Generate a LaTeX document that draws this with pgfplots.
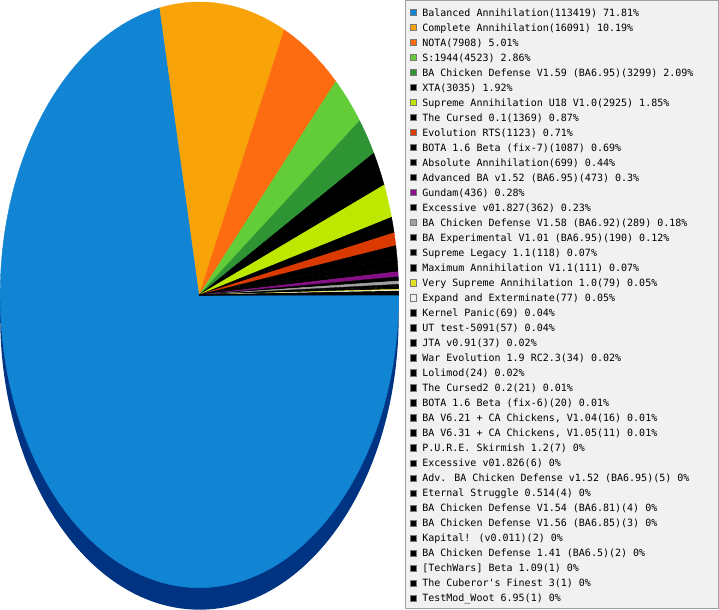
\documentclass[border=0pt]{standalone}
\usepackage{pgfplots}
\pgfplotsset{compat=1.18}
\usepackage{pgfplotstable}
\usepackage{fontspec}
\newfontfamily\legendfont{DejaVu Sans Mono}

\definecolor{cBA}{RGB}{17,133,212}
\definecolor{cCA}{RGB}{248,164,8}
\definecolor{cNOTA}{RGB}{253,108,17}
\definecolor{cS44}{RGB}{99,205,57}
\definecolor{cBACD}{RGB}{46,148,52}
\definecolor{cBlk}{RGB}{0,0,0}
\definecolor{cSA}{RGB}{190,232,0}
\definecolor{cEvo}{RGB}{218,58,0}
\definecolor{cGun}{RGB}{135,15,135}
\definecolor{cGrey}{RGB}{160,160,160}
\definecolor{cYel}{RGB}{224,224,40}
\definecolor{cLight}{RGB}{240,240,240}
\definecolor{cDepth}{RGB}{0,52,130}
\definecolor{lgbg}{RGB}{241,241,241}
\definecolor{lgborder}{RGB}{160,160,160}
\definecolor{lgsq}{RGB}{120,120,120}

% games played per mod
\pgfplotstableread{
count col
113419 cBA
16091 cCA
7908 cNOTA
4523 cS44
3299 cBACD
3035 cBlk
2925 cSA
1369 cBlk
1123 cEvo
1087 cBlk
699 cBlk
473 cBlk
436 cGun
362 cBlk
289 cGrey
190 cBlk
118 cBlk
111 cBlk
79 cYel
77 cLight
69 cBlk
57 cBlk
37 cBlk
34 cBlk
24 cBlk
21 cBlk
20 cBlk
16 cBlk
11 cBlk
7 cBlk
6 cBlk
5 cBlk
4 cBlk
4 cBlk
3 cBlk
2 cBlk
2 cBlk
1 cBlk
1 cBlk
1 cBlk
}\piedata

\newcommand\modentry[2]{\addlegendimage{fill=#1}\addlegendentry{#2}}

\begin{document}
\begin{tikzpicture}
\begin{axis}[
  scale only axis, width=719bp, height=610bp,
  xmin=0, xmax=719, ymin=0, ymax=610,
  axis lines=none, ticks=none,
  legend image code/.code={\draw[draw=lgsq, line width=0.8bp, #1] (0.4bp,-2.1bp) rectangle (6.6bp,4.1bp);},
  legend cell align=left,
  legend style={at={(axis cs:410.6,604)}, anchor=north west, draw=none, fill=none,
    inner sep=0pt, outer sep=0pt, row sep=0pt,
    font=\legendfont\fontsize{10bp}{12bp}\selectfont,
    nodes={inner sep=0pt, text height=10bp, text depth=5bp},
    /tikz/every odd column/.append style={column sep=5bp}},
]
\pgfplotsextra{
  \pgfplotstablegetrowsof{\piedata}
  \edef\lastrow{\the\numexpr\pgfplotsretval-1\relax}
  \gdef\total{0}
  \foreach \r in {0,...,\lastrow}{
    \pgfplotstablegetelem{\r}{count}\of{\piedata}
    \xdef\total{\fpeval{\total+\pgfplotsretval}}
  }
  % legend panel
  \draw[lgborder, fill=lgbg, line width=1bp] (axis cs:405.5,609.5) rectangle (axis cs:718.5,2.5);
  % side of the disc
  \fill[cDepth] (axis cs:399,315.5) -- ++(0,-22bp)
    arc[start angle=0, end angle=-180, x radius=199bp, y radius=292.5bp] -- ++(0,22bp) -- cycle;
  % slices, clockwise from 3 o'clock
  \gdef\cum{0}
  \foreach \r in {0,...,\lastrow}{
    \pgfplotstablegetelem{\r}{count}\of{\piedata}\let\cnt\pgfplotsretval
    \pgfplotstablegetelem{\r}{col}\of{\piedata}\let\slicecol\pgfplotsretval
    \edef\angA{\fpeval{-360*\cum/\total}}
    \xdef\cum{\fpeval{\cum+\cnt}}
    \edef\angB{\fpeval{-360*\cum/\total}}
    \filldraw[fill=\slicecol, draw=\slicecol, line width=0.4bp, line join=round]
      (axis cs:200,315.5) -- ++(\angA:199bp and 292.5bp)
      arc[start angle=\angA, end angle=\angB, x radius=199bp, y radius=292.5bp] -- cycle;
  }
}
\modentry{cBA}{Balanced Annihilation(113419) 71.81\%}
\modentry{cCA}{Complete Annihilation(16091) 10.19\%}
\modentry{cNOTA}{NOTA(7908) 5.01\%}
\modentry{cS44}{S:1944(4523) 2.86\%}
\modentry{cBACD}{BA Chicken Defense V1.59 (BA6.95)(3299) 2.09\%}
\modentry{cBlk}{XTA(3035) 1.92\%}
\modentry{cSA}{Supreme Annihilation U18 V1.0(2925) 1.85\%}
\modentry{cBlk}{The Cursed 0.1(1369) 0.87\%}
\modentry{cEvo}{Evolution RTS(1123) 0.71\%}
\modentry{cBlk}{BOTA 1.6 Beta (fix-7)(1087) 0.69\%}
\modentry{cBlk}{Absolute Annihilation(699) 0.44\%}
\modentry{cBlk}{Advanced BA v1.52 (BA6.95)(473) 0.3\%}
\modentry{cGun}{Gundam(436) 0.28\%}
\modentry{cBlk}{Excessive v01.827(362) 0.23\%}
\modentry{cGrey}{BA Chicken Defense V1.58 (BA6.92)(289) 0.18\%}
\modentry{cBlk}{BA Experimental V1.01 (BA6.95)(190) 0.12\%}
\modentry{cBlk}{Supreme Legacy 1.1(118) 0.07\%}
\modentry{cBlk}{Maximum Annihilation V1.1(111) 0.07\%}
\modentry{cYel}{Very Supreme Annihilation 1.0(79) 0.05\%}
\modentry{cLight}{Expand and Exterminate(77) 0.05\%}
\modentry{cBlk}{Kernel Panic(69) 0.04\%}
\modentry{cBlk}{UT test-5091(57) 0.04\%}
\modentry{cBlk}{JTA v0.91(37) 0.02\%}
\modentry{cBlk}{War Evolution 1.9 RC2.3(34) 0.02\%}
\modentry{cBlk}{Lolimod(24) 0.02\%}
\modentry{cBlk}{The Cursed2 0.2(21) 0.01\%}
\modentry{cBlk}{BOTA 1.6 Beta (fix-6)(20) 0.01\%}
\modentry{cBlk}{BA V6.21 + CA Chickens, V1.04(16) 0.01\%}
\modentry{cBlk}{BA V6.31 + CA Chickens, V1.05(11) 0.01\%}
\modentry{cBlk}{P.U.R.E. Skirmish 1.2(7) 0\%}
\modentry{cBlk}{Excessive v01.826(6) 0\%}
\modentry{cBlk}{Adv. BA Chicken Defense v1.52 (BA6.95)(5) 0\%}
\modentry{cBlk}{Eternal Struggle 0.514(4) 0\%}
\modentry{cBlk}{BA Chicken Defense V1.54 (BA6.81)(4) 0\%}
\modentry{cBlk}{BA Chicken Defense V1.56 (BA6.85)(3) 0\%}
\modentry{cBlk}{Kapital! (v0.011)(2) 0\%}
\modentry{cBlk}{BA Chicken Defense 1.41 (BA6.5)(2) 0\%}
\modentry{cBlk}{[TechWars] Beta 1.09(1) 0\%}
\modentry{cBlk}{The Cuberor's Finest 3(1) 0\%}
\modentry{cBlk}{TestMod\_Woot 6.95(1) 0\%}
\end{axis}
\end{tikzpicture}
\end{document}
